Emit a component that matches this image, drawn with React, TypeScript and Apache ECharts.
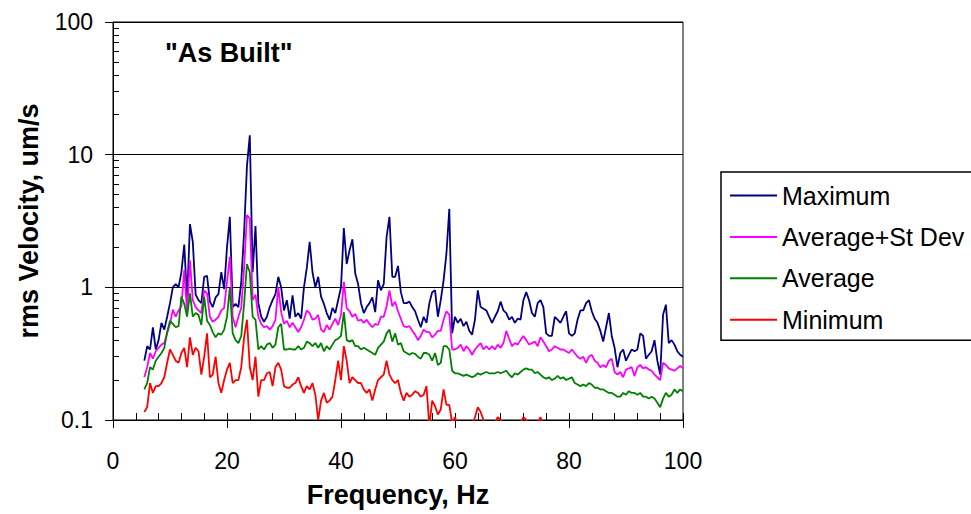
import React, { useEffect, useRef } from "react";
import * as echarts from "echarts";

// Frequency grid (Hz): first sample and spacing of the measured spectra
const FREQ_START = 5.5;
const FREQ_STEP = 0.5;

const SERIES_NAMES = ["Maximum", "Average+St Dev", "Average", "Minimum"];
const SERIES_COLORS = ["#000080", "#FF00FF", "#008000", "#FF0000"];

// rms velocity, um/s — one value per 0.5 Hz from 5.5 to 100 Hz
const MAXIMUM = [
  0.28, 0.36, 0.34, 0.5, 0.34, 0.4, 0.54, 0.48, 0.6, 0.76,
  1.0, 1.06, 1.0, 1.3, 2.1, 0.8, 3.0, 2.2, 0.88, 0.8,
  0.76, 1.2, 1.22, 0.78, 0.71, 0.84, 0.89, 1.3, 0.97, 2.0,
  3.4, 0.71, 0.75, 0.71, 1.1, 2.6, 8.2, 14, 1.3, 2.9,
  0.76, 0.6, 0.55, 0.6, 0.71, 0.8, 0.89, 1.2, 1.0, 0.67,
  0.8, 0.58, 0.87, 0.6, 0.64, 0.58, 1.0, 1.4, 2.2, 1.3,
  1.0, 1.2, 0.85, 0.75, 0.64, 0.57, 0.7, 0.64, 0.8, 1.0,
  2.8, 1.5, 1.9, 2.3, 1.27, 1.06, 0.76, 0.64, 0.71, 0.76,
  0.84, 0.65, 1.13, 0.95, 1.06, 2.4, 3.4, 1.2, 1.2, 1.45,
  0.92, 0.76, 0.76, 0.78, 0.71, 0.66, 0.57, 0.5, 0.6, 0.54,
  0.76, 0.92, 0.95, 0.6, 0.8, 1.13, 1.8, 3.9, 0.45, 0.6,
  0.54, 0.58, 0.51, 0.55, 0.47, 0.44, 0.57, 0.95, 0.71, 0.69,
  0.67, 0.6, 0.54, 0.6, 0.66, 0.78, 0.67, 0.64, 0.57, 0.6,
  0.54, 0.58, 0.57, 0.8, 0.92, 0.8, 0.64, 0.6, 0.76, 0.8,
  0.71, 0.45, 0.43, 0.43, 0.6, 0.57, 0.54, 0.6, 0.66, 0.45,
  0.43, 0.45, 0.57, 0.67, 0.67, 0.76, 0.8, 0.66, 0.58, 0.54,
  0.47, 0.39, 0.5, 0.64, 0.43, 0.35, 0.25, 0.32, 0.34, 0.28,
  0.31, 0.34, 0.33, 0.34, 0.45, 0.43, 0.29, 0.31, 0.33, 0.4,
  0.28, 0.22, 0.62, 0.74, 0.38, 0.4, 0.37, 0.33, 0.31, 0.3,
];

const AVERAGE_PLUS_SD = [
  0.21, 0.25, 0.32, 0.29, 0.33, 0.35, 0.37, 0.38, 0.45, 0.53,
  0.68, 0.6, 0.67, 0.72, 1.35, 0.64, 1.6, 0.8, 0.71, 0.67,
  0.64, 0.95, 0.9, 0.6, 0.55, 0.57, 0.6, 0.67, 0.7, 1.1,
  1.7, 0.6, 0.5, 0.6, 0.7, 1.4, 3.5, 3.3, 0.8, 0.88,
  0.6, 0.53, 0.5, 0.51, 0.48, 0.51, 0.57, 1.0, 0.65, 0.53,
  0.56, 0.5, 0.54, 0.5, 0.46, 0.5, 0.57, 0.67, 0.64, 0.57,
  0.58, 0.62, 0.48, 0.46, 0.52, 0.48, 0.53, 0.58, 0.52, 0.62,
  1.1, 0.7, 0.66, 0.6, 0.63, 0.56, 0.57, 0.54, 0.57, 0.53,
  0.5, 0.53, 0.52, 0.6, 0.6, 0.72, 0.95, 0.72, 0.78, 0.66,
  0.58, 0.51, 0.5, 0.51, 0.47, 0.44, 0.4, 0.43, 0.48, 0.46,
  0.46, 0.42, 0.44, 0.47, 0.47, 0.57, 0.66, 0.62, 0.34, 0.34,
  0.35, 0.37, 0.33, 0.36, 0.34, 0.31, 0.34, 0.36, 0.38, 0.34,
  0.36, 0.34, 0.36, 0.34, 0.37, 0.35, 0.38, 0.47, 0.41, 0.36,
  0.38, 0.37, 0.4, 0.43, 0.4, 0.37, 0.38, 0.39, 0.36, 0.42,
  0.39, 0.36, 0.33, 0.34, 0.36, 0.35, 0.34, 0.34, 0.33, 0.32,
  0.34, 0.32, 0.3, 0.29, 0.3, 0.27, 0.3, 0.31, 0.28, 0.27,
  0.25, 0.26, 0.25, 0.28, 0.29, 0.23, 0.22, 0.23, 0.21, 0.24,
  0.245, 0.25, 0.215, 0.25, 0.26, 0.245, 0.25, 0.24, 0.235, 0.22,
  0.21, 0.2, 0.27, 0.26, 0.245, 0.24, 0.235, 0.245, 0.255, 0.245,
];

const AVERAGE = [
  0.17, 0.19, 0.25, 0.24, 0.28, 0.3, 0.32, 0.35, 0.46, 0.56,
  0.53, 0.5, 0.51, 0.85, 0.75, 0.6, 0.9, 0.6, 0.64, 0.62,
  0.52, 0.85, 0.56, 0.52, 0.46, 0.42, 0.45, 0.44, 0.48, 0.6,
  1.0, 0.45, 0.4, 0.38, 0.43, 0.75, 1.5, 1.3, 0.6, 0.57,
  0.34, 0.36, 0.34, 0.37, 0.38, 0.35, 0.37, 0.5, 0.53, 0.34,
  0.34, 0.345, 0.34, 0.34, 0.36, 0.34, 0.35, 0.39, 0.38, 0.36,
  0.38, 0.35, 0.38, 0.33, 0.36, 0.34, 0.37, 0.4, 0.41, 0.43,
  0.65, 0.4, 0.39, 0.4, 0.36, 0.36, 0.34, 0.35, 0.34, 0.33,
  0.32, 0.31, 0.35, 0.37, 0.39, 0.45, 0.48, 0.39, 0.45, 0.37,
  0.38, 0.33, 0.32, 0.31, 0.32, 0.315, 0.3, 0.29, 0.32, 0.32,
  0.31, 0.28, 0.32, 0.26, 0.27, 0.36, 0.36, 0.34, 0.235, 0.225,
  0.225, 0.22, 0.215, 0.22, 0.215, 0.21, 0.215, 0.225, 0.22, 0.225,
  0.23, 0.225, 0.225, 0.225, 0.23, 0.225, 0.23, 0.235, 0.22, 0.21,
  0.225, 0.22, 0.23, 0.24, 0.245, 0.24, 0.24, 0.225, 0.23, 0.22,
  0.21, 0.205, 0.21, 0.2, 0.205, 0.215, 0.205, 0.21, 0.2, 0.205,
  0.21, 0.19, 0.185, 0.18, 0.185, 0.18, 0.19, 0.185, 0.175, 0.175,
  0.17, 0.17, 0.165, 0.16, 0.16, 0.155, 0.15, 0.15, 0.16, 0.155,
  0.165, 0.16, 0.16, 0.155, 0.16, 0.15, 0.15, 0.145, 0.15, 0.145,
  0.135, 0.125, 0.145, 0.16, 0.15, 0.155, 0.17, 0.16, 0.17, 0.165,
];

const MINIMUM = [
  0.115, 0.125, 0.19, 0.16, 0.18, 0.18, 0.19, 0.21, 0.27, 0.34,
  0.31, 0.28, 0.27, 0.32, 0.35, 0.25, 0.42, 0.31, 0.35, 0.33,
  0.22, 0.3, 0.45, 0.21, 0.22, 0.3, 0.19, 0.16, 0.2, 0.24,
  0.27, 0.19, 0.2, 0.2, 0.25, 0.42, 0.57, 0.25, 0.2, 0.3,
  0.15, 0.2, 0.2, 0.225, 0.23, 0.18, 0.25, 0.27, 0.24, 0.18,
  0.175, 0.175, 0.185, 0.19, 0.21, 0.18, 0.16, 0.18, 0.17, 0.19,
  0.155, 0.1, 0.14, 0.16, 0.135, 0.14, 0.15, 0.2, 0.28, 0.2,
  0.36, 0.28, 0.19, 0.21, 0.2, 0.19, 0.19, 0.17, 0.16, 0.17,
  0.14, 0.17, 0.2, 0.21, 0.22, 0.28, 0.22, 0.2, 0.19, 0.2,
  0.16, 0.14, 0.16, 0.15, 0.155, 0.165, 0.16, 0.15, 0.155, 0.18,
  0.09, 0.14, 0.127, 0.11, 0.12, 0.17, 0.13, 0.13, 0.095, 0.105,
  0.09, 0.085, 0.09, 0.08, 0.095, 0.09, 0.105, 0.125, 0.115, 0.1,
  0.09, 0.085, 0.09, 0.095, 0.105, 0.1, 0.085, 0.08, 0.085, 0.08,
  0.085, 0.09, 0.095, 0.105, 0.1, 0.09, 0.085, 0.09, 0.095, 0.105,
  0.09, 0.085, 0.08, 0.075, 0.08, 0.085, 0.078, 0.072, 0.08, 0.076,
  0.07, 0.074, 0.068, 0.072, 0.066, 0.07, 0.065, 0.068, 0.062, 0.066,
  0.06, 0.064, 0.058, 0.062, 0.056, 0.054, 0.05, 0.056, 0.052, 0.055,
  0.058, 0.054, 0.057, 0.053, 0.06, 0.056, 0.052, 0.055, 0.05, 0.053,
  0.048, 0.045, 0.05, 0.055, 0.052, 0.054, 0.058, 0.055, 0.057, 0.056,
];

const SERIES_VALUES = [MAXIMUM, AVERAGE_PLUS_SD, AVERAGE, MINIMUM];

const FREQUENCIES = MAXIMUM.map((_, i) => FREQ_START + i * FREQ_STEP);

// Axis tick values
const X_MIN = 0;
const X_MAX = 100;
const X_MAJOR = 20;
const X_MINOR = 4;
const Y_MIN = 0.1;
const Y_MAX = 100;
const Y_MINOR_TICKS = [
  0.2, 0.3, 0.4, 0.5, 0.6, 0.7, 0.8, 0.9,
  2, 3, 4, 5, 6, 7, 8, 9,
  20, 30, 40, 50, 60, 70, 80, 90,
];

const TITLE = '"As Built"';
const X_NAME = "Frequency, Hz";
const Y_NAME = "rms Velocity, um/s";

const FONT = 'Arial, "Liberation Sans", Helvetica, sans-serif';

export default function App() {
  const ref = useRef<HTMLDivElement>(null);

  useEffect(() => {
    if (!ref.current) return;
    const chart = echarts.init(ref.current, undefined, { renderer: "svg" });

    const series = SERIES_NAMES.map((name, s) => ({
      name,
      type: "line",
      xAxisIndex: 0,
      yAxisIndex: 0,
      data: FREQUENCIES.map((f, i) => [f, SERIES_VALUES[s][i]]),
      showSymbol: false,
      symbol: "none",
      clip: true,
      lineStyle: { color: SERIES_COLORS[s], width: 1.8 },
      itemStyle: { color: SERIES_COLORS[s] },
      emphasis: { disabled: true },
    }));

    const black = { color: "#000", width: 1 };

    chart.setOption({
      animation: false,
      textStyle: { fontFamily: FONT },
      title: {
        text: TITLE,
        left: 165,
        top: 39,
        padding: 0,
        textStyle: { fontFamily: FONT, fontSize: 27, fontWeight: "bold", color: "#000" },
      },
      legend: {
        orient: "vertical",
        left: 721,
        top: 172,
        padding: [11, 14, 8, 9],
        icon: "rect",
        itemWidth: 47,
        itemHeight: 2,
        itemGap: 16.4,
        borderColor: "#000",
        borderWidth: 1.5,
        selectedMode: false,
        data: SERIES_NAMES.map((name, s) => ({
          name,
          icon: "rect",
          itemStyle: { color: SERIES_COLORS[s] },
        })),
        textStyle: { fontFamily: FONT, fontSize: 25, lineHeight: 25, color: "#000" },
      },
      grid: {
        left: 113,
        top: 22,
        width: 570,
        height: 398,
        show: true,
        borderColor: "#000",
        borderWidth: 1,
        backgroundColor: "transparent",
      },
      xAxis: [
        {
          type: "value",
          min: X_MIN,
          max: X_MAX,
          interval: X_MAJOR,
          position: "bottom",
          name: X_NAME,
          nameLocation: "middle",
          nameGap: 61,
          nameTextStyle: { fontFamily: FONT, fontSize: 27, fontWeight: "bold", color: "#000" },
          axisLine: { show: true, onZero: false, lineStyle: black },
          axisTick: { show: true, inside: false, length: 8, lineStyle: black },
          axisLabel: { margin: 29, fontSize: 23, color: "#000", fontFamily: FONT },
          splitLine: { show: false },
        },
        {
          type: "value",
          min: X_MIN,
          max: X_MAX,
          interval: X_MINOR,
          position: "bottom",
          axisLine: { show: false, onZero: false },
          axisTick: { show: true, inside: true, length: 7, lineStyle: black },
          axisLabel: { show: false },
          splitLine: { show: false },
        },
      ],
      yAxis: [
        {
          type: "log",
          logBase: 10,
          min: Y_MIN,
          max: Y_MAX,
          position: "left",
          name: Y_NAME,
          nameLocation: "middle",
          nameGap: 71,
          nameTextStyle: { fontFamily: FONT, fontSize: 27, fontWeight: "bold", color: "#000" },
          axisLine: { show: true, onZero: false, lineStyle: black },
          axisTick: { show: true, inside: false, length: 8, lineStyle: black },
          axisLabel: { margin: 20, fontSize: 23, color: "#000", fontFamily: FONT },
          splitLine: { show: true, lineStyle: black },
          minorTick: { show: false },
        },
        {
          type: "log",
          logBase: 10,
          min: Y_MIN,
          max: Y_MAX,
          position: "left",
          axisLine: { show: false, onZero: false },
          axisTick: { show: true, inside: true, length: 6, lineStyle: black, customValues: Y_MINOR_TICKS },
          axisLabel: { show: false },
          splitLine: { show: false },
        },
      ],
      series,
    });

    return () => chart.dispose();
  }, []);

  return (
    <div
      ref={ref}
      style={{ position: "fixed", left: 0, top: 0, width: 971, height: 514, background: "#fff" }}
    />
  );
}
